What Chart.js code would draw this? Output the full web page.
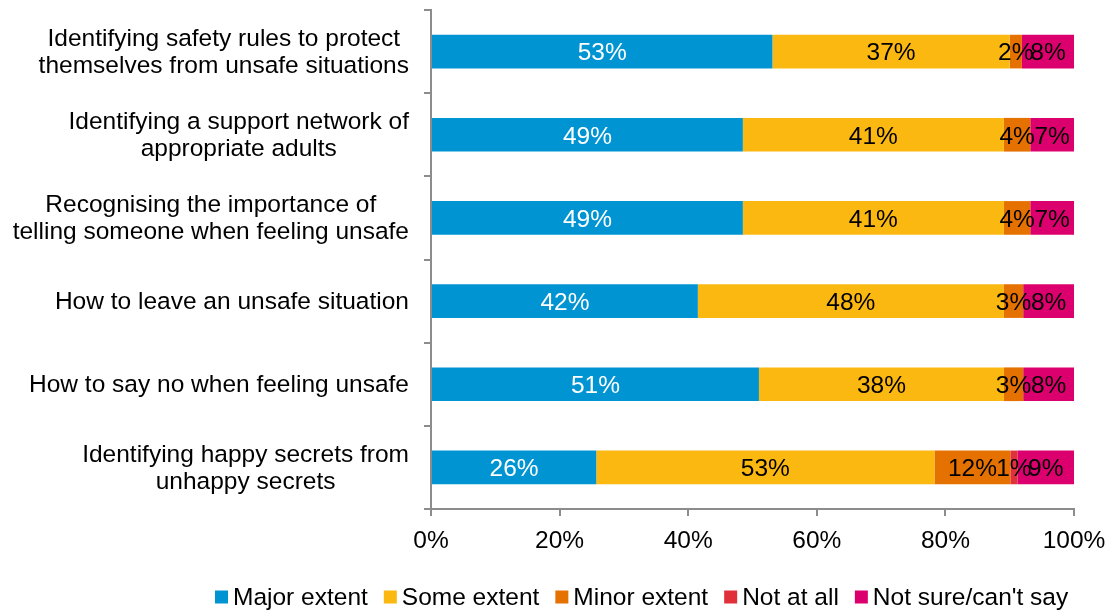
<!DOCTYPE html>
<html>
<head>
<meta charset="utf-8">
<script src="https://cdn.jsdelivr.net/npm/chart.js@4/dist/chart.umd.min.js"></script>
<style>
  html, body { margin: 0; padding: 0; background: #fff; }
  #wrap { width: 1109px; height: 612px; position: relative; }
</style>
</head>
<body>
<div id="wrap"><canvas id="grafico"></canvas></div>
<script>
const categorias = [
  ["Identifying safety rules to protect", "themselves from unsafe situations"],
  ["Identifying a support network of", "appropriate adults"],
  ["Recognising the importance of", "telling someone when feeling unsafe"],
  ["How to leave an unsafe situation"],
  ["How to say no when feeling unsafe"],
  ["Identifying happy secrets from", "unhappy secrets"]
];

const series = ["Major extent", "Some extent", "Minor extent", "Not at all", "Not sure/can't say"];

const majorExtent = [53.1, 48.5, 48.5, 41.5, 51.0, 25.7];
const someExtent  = [36.9, 40.6, 40.6, 47.6, 38.1, 52.6];
const minorExtent = [1.9, 4.1, 4.1, 3.0, 3.0, 11.8];
const notAtAll    = [0, 0, 0, 0, 0, 1.1];
const notSure     = [8.1, 6.8, 6.8, 7.9, 7.9, 8.8];

const ticksX = [0, 20, 40, 60, 80, 100];

const COLORES = ['#0094d3', '#fbb810', '#e57200', '#e0303a', '#dc006e'];
const FUENTE = "'Liberation Sans', Arial, sans-serif";
const TAM = 24.5;

const valores = [majorExtent, someExtent, minorExtent, notAtAll, notSure];

// etiquetas dentro de las barras
const etiquetasBarras = {
  id: 'etiquetasBarras',
  afterDatasetsDraw(chart) {
    const ctx = chart.ctx;
    ctx.save();
    ctx.font = TAM + 'px ' + FUENTE;
    ctx.textAlign = 'center';
    ctx.textBaseline = 'middle';
    chart.data.datasets.forEach((ds, i) => {
      const meta = chart.getDatasetMeta(i);
      meta.data.forEach((barra, j) => {
        const v = ds.data[j];
        if (v < 0.5) return;
        ctx.fillStyle = i === 0 ? '#ffffff' : '#000000';
        ctx.fillText(Math.round(v) + '%', (barra.x + barra.base) / 2, barra.y + 2);
      });
    });
    ctx.restore();
  }
};

// etiquetas del eje Y centradas en bloque
const etiquetasEjeY = {
  id: 'etiquetasEjeY',
  afterDraw(chart) {
    const ctx = chart.ctx;
    const escala = chart.scales.y;
    ctx.save();
    ctx.font = TAM + 'px ' + FUENTE;
    ctx.fillStyle = '#000';
    ctx.textAlign = 'center';
    ctx.textBaseline = 'middle';
    const derecha = 409;
    const interlineado = 27;
    categorias.forEach((lineas, j) => {
      const anchoMax = Math.max(...lineas.map((l) => ctx.measureText(l).width));
      const cx = derecha - anchoMax / 2;
      const cy = escala.getPixelForValue(j);
      const y0 = cy - (lineas.length - 1) * interlineado / 2;
      lineas.forEach((l, k) => ctx.fillText(l, cx, y0 + k * interlineado + 1));
    });
    ctx.restore();
  }
};

// leyenda propia
const leyenda = {
  id: 'leyenda',
  afterDraw(chart) {
    const ctx = chart.ctx;
    ctx.save();
    ctx.font = TAM + 'px ' + FUENTE;
    ctx.textBaseline = 'middle';
    ctx.textAlign = 'left';
    let x = 215;
    const y = 597;
    series.forEach((nombre, i) => {
      ctx.fillStyle = COLORES[i];
      ctx.fillRect(x, y - 6.5, 13, 13);
      ctx.fillStyle = '#000';
      ctx.fillText(nombre, x + 18, y + 1);
      x += 18 + ctx.measureText(nombre).width + 16;
    });
    ctx.restore();
  }
};

new Chart(document.getElementById('grafico'), {
  type: 'bar',
  data: {
    labels: categorias.map((c) => c.join(' ')),
    datasets: series.map((nombre, i) => ({
      label: nombre,
      data: valores[i],
      backgroundColor: COLORES[i],
      borderWidth: 0,
      barPercentage: 0.405,
      categoryPercentage: 1
    }))
  },
  options: {
    indexAxis: 'y',
    responsive: true,
    maintainAspectRatio: false,
    animation: false,
    layout: { padding: { left: 0, right: 35, top: 10, bottom: 0 } },
    plugins: {
      legend: { display: false },
      tooltip: { enabled: false }
    },
    scales: {
      x: {
        stacked: true,
        min: 0,
        max: 100,
        afterBuildTicks(escala) {
          escala.ticks = ticksX.map((v) => ({ value: v }));
        },
        afterFit(escala) {
          escala.height = 103;
          escala.paddingLeft = 0;
          escala.paddingRight = 0;
        },
        ticks: {
          callback: (v) => v + '%',
          color: '#000',
          padding: 11,
          maxRotation: 0,
          font: { family: FUENTE, size: TAM }
        },
        grid: {
          drawOnChartArea: false,
          tickLength: 7,
          color: '#8c8c8c',
          lineWidth: 2
        },
        border: { color: '#8c8c8c', width: 2 }
      },
      y: {
        stacked: true,
        afterFit(escala) { escala.width = 431; },
        ticks: { display: false },
        grid: {
          drawOnChartArea: false,
          tickLength: 7,
          color: '#8c8c8c',
          lineWidth: 2
        },
        border: { color: '#8c8c8c', width: 2 }
      }
    }
  },
  plugins: [etiquetasBarras, etiquetasEjeY, leyenda]
});
</script>
</body>
</html>
